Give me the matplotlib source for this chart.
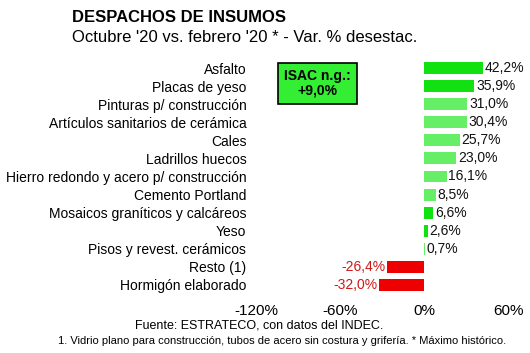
import matplotlib
matplotlib.use("Agg")
import matplotlib.pyplot as plt

categories = ["Asfalto", "Placas de yeso", "Pinturas p/ construcción",
              "Artículos sanitarios de cerámica", "Cales", "Ladrillos huecos",
              "Hierro redondo y acero p/ construcción", "Cemento Portland",
              "Mosaicos graníticos y calcáreos", "Yeso",
              "Pisos y revest. cerámicos", "Resto (1)", "Hormigón elaborado"]
values = [42.2, 35.9, 31.0, 30.4, 25.7, 23.0, 16.1, 8.5, 6.6, 2.6, 0.7, -26.4, -32.0]
record = [True, True, False, False, False, False, False, False, True, True, False, False, False]
xticks = [-120, -60, 0, 60]
isac_text = "ISAC n.g.:\n+9,0%"

plt.rcParams['font.family'] = ['Liberation Sans', 'DejaVu Sans']

fig = plt.figure(figsize=(5.3, 3.53), dpi=100)
ax = fig.add_axes([256/530, 1-294/353, 252/530, (294-59)/353])

colors = []
for v, r in zip(values, record):
    if v < 0:
        colors.append('#ee0000')
    elif r:
        colors.append('#11e011')
    else:
        colors.append('#66ee66')

y = list(range(len(categories)))
ax.barh(y, values, height=0.66, color=colors)
ax.set_ylim(len(categories) - 0.5, -0.5)
ax.set_xlim(-120, 60)
ax.set_yticks(y)
ax.set_yticklabels(categories, fontsize=10)
ax.set_xticks(xticks)
ax.set_xticklabels([f"{t}%" for t in xticks], fontsize=11)
ax.tick_params(length=0, axis='both')
ax.tick_params(axis='y', pad=7)
ax.tick_params(axis='x', pad=7)
for s in ax.spines.values():
    s.set_visible(False)

for yi, v in zip(y, values):
    lab = f"{v:.1f}%".replace('.', ',')
    if v >= 0:
        ax.text(v + 1.2, yi, lab, va='center', ha='left', fontsize=10, color='#111111')
    else:
        ax.text(v - 1.2, yi, lab, va='center', ha='right', fontsize=10, color='#d01818')

ax.text(-76, 0.85, isac_text, ha='center', va='center', fontsize=10, fontweight='bold',
        linespacing=1.1,
        bbox=dict(boxstyle='square,pad=0.45', facecolor='#33ee33', edgecolor='black', linewidth=1.2))

fig.text(72/530, 1-17/353, "DESPACHOS DE INSUMOS", fontsize=12, fontweight='bold', va='center', ha='left')
fig.text(72/530, 1-38/353, "Octubre '20 vs. febrero '20 * - Var. % desestac.", fontsize=12, va='center', ha='left')
fig.text(259/530, 1-325/353, "Fuente: ESTRATECO, con datos del INDEC.", fontsize=9, va='center', ha='center')
fig.text(282/530, 1-341/353, "1. Vidrio plano para construcción, tubos de acero sin costura y grifería. * Máximo histórico.",
         fontsize=8, va='center', ha='center')

fig.savefig("out.png", dpi=100)
